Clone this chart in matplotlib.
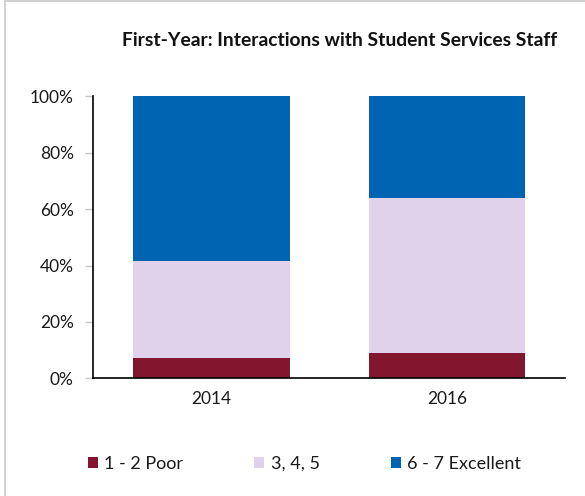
import matplotlib
matplotlib.use("Agg")
import matplotlib.pyplot as plt
from matplotlib.patches import Rectangle, Patch

years = ["2014", "2016"]
poor = [7.3, 9.0]
mid = [34.3, 54.8]
excellent = [58.4, 36.2]
series_labels = ["1 - 2 Poor", "3, 4, 5", "6 - 7 Excellent"]
colors = ["#83162f", "#dfd2ea", "#0064b2"]
yticks = [0, 20, 40, 60, 80, 100]

plt.rcParams["font.family"] = ["Lato", "DejaVu Sans"]

W, H = 585, 496
fig = plt.figure(figsize=(W / 100, H / 100), dpi=100)
ax = fig.add_axes([93.3 / W, 1 - 378.3 / H, (564.8 - 93.3) / W, (378.3 - 96.3) / H])

x = list(range(len(years)))
bw = 0.665
bottom = [0.0] * len(years)
for vals, lab, c in zip([poor, mid, excellent], series_labels, colors):
    ax.bar(x, vals, bw, bottom=bottom, color=c, label=lab, edgecolor="none")
    bottom = [b + v for b, v in zip(bottom, vals)]

ax.set_xlim(-0.5, len(years) - 0.5)
ax.set_ylim(0, 100)
ax.set_yticks(yticks)
ax.set_yticklabels([f"{t}%" for t in yticks])
ax.set_xticks(x)
ax.set_xticklabels(years)
for s in ["top", "right"]:
    ax.spines[s].set_visible(False)
ax.spines["left"].set_linewidth(1.2)
ax.spines["bottom"].set_linewidth(1.2)
ax.tick_params(axis="y", length=6, width=1, color="#c8c8c8", pad=8, labelsize=12.5, labelcolor="#1a1a1a")
ax.tick_params(axis="x", length=0, pad=9, labelsize=12.5, labelcolor="#1a1a1a")

fig.text(339.5 / W, 1 - 40 / H, "First-Year: Interactions with Student Services Staff",
         ha="center", va="center", fontsize=13.9, fontweight="bold", color="#111111")

handles = [Patch(facecolor=c, edgecolor="none") for c in colors]
fig.legend(handles, series_labels, loc="center", bbox_to_anchor=(304.5 / W, 1 - 464 / H),
           ncol=3, frameon=False, fontsize=13, handlelength=0.55, handleheight=0.55,
           handletextpad=0.35, columnspacing=3.95, labelcolor="#1a1a1a")

fig.patches.append(Rectangle((5 / W, -0.1), 1.2, (1 - 1 / H) + 0.1, transform=fig.transFigure,
                             fill=False, edgecolor="#c8c8c8", linewidth=1.2))

fig.savefig("out.png", dpi=100)
